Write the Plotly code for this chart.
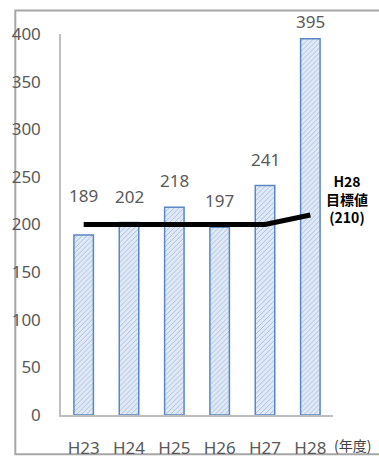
import plotly.graph_objects as go

# Annual counts by fiscal year
years = ["H23", "H24", "H25", "H26", "H27", "H28"]
counts = [189, 202, 218, 197, 241, 395]

# Target line (H28 target value 210)
target_line = [200, 200, 200, 200, 200, 210]
target_label_lines = ["H28", "目標値", "(210)"]

y_ticks = [0, 50, 100, 150, 200, 250, 300, 350, 400]

# Vertical pixel lift of each value label above its bar
label_lift = [26, 13, 13, 13, 12, 4]

num_font = dict(family="Noto Sans, Open Sans, sans-serif", size=17, color="#595959")

fig = go.Figure()

fig.add_trace(go.Bar(
    x=years,
    y=counts,
    width=0.43,
    marker=dict(
        color="#dde7f3",
        line=dict(color="#5b87c2", width=1.5),
        pattern=dict(shape="/", bgcolor="#e0e9f5", fgcolor="#a3bcdd",
                     size=3.5, solidity=0.25, fillmode="replace"),
    ),
    hoverinfo="skip",
))

fig.add_trace(go.Scatter(
    x=years,
    y=target_line,
    mode="lines",
    line=dict(color="#000000", width=5),
    hoverinfo="skip",
))

# value labels above the bars
for yr, v, lift in zip(years, counts, label_lift):
    fig.add_annotation(
        x=yr, y=v, text=str(v), showarrow=False,
        xanchor="center", yanchor="bottom", yshift=lift,
        font=num_font,
    )

# target label to the right of the line end
fig.add_annotation(
    xref="paper", yref="y", x=1.05, y=210,
    text="<b>" + "<br>".join(target_label_lines) + "</b>",
    showarrow=False, xanchor="center", yanchor="middle", align="center",
    yshift=16, borderpad=0,
    font=dict(family="Noto Sans CJK JP, sans-serif", size=14, color="#000000"),
)

fig.add_annotation(
    xref="paper", yref="paper", x=1.07, y=-0.078, text="(年度)",
    showarrow=False, xanchor="center", yanchor="middle",
    font=dict(family="Noto Sans CJK JP, sans-serif", size=14, color="#404040"),
)

# outer chart frame
fig.add_shape(
    type="rect", xref="paper", yref="paper",
    x0=-0.168, x1=1.175, y0=-0.103, y1=1.062,
    line=dict(color="#a6a6a6", width=2), fillcolor="rgba(0,0,0,0)",
    layer="below",
)

fig.update_layout(
    width=379, height=471,
    margin=dict(l=53, r=46, t=34, b=48),
    paper_bgcolor="white",
    plot_bgcolor="white",
    showlegend=False,
    xaxis=dict(
        showgrid=False, showline=True, linecolor="#bfbfbf", linewidth=1.5,
        ticks="", tickfont=num_font, ticklabelstandoff=17, fixedrange=True,
    ),
    yaxis=dict(
        range=[0, 400], tickvals=y_ticks, showgrid=False, zeroline=False,
        showline=True, linecolor="#bfbfbf", linewidth=1.5,
        ticks="", tickfont=num_font, ticklabelstandoff=15, fixedrange=True,
    ),
)

fig.write_html("out.html")
